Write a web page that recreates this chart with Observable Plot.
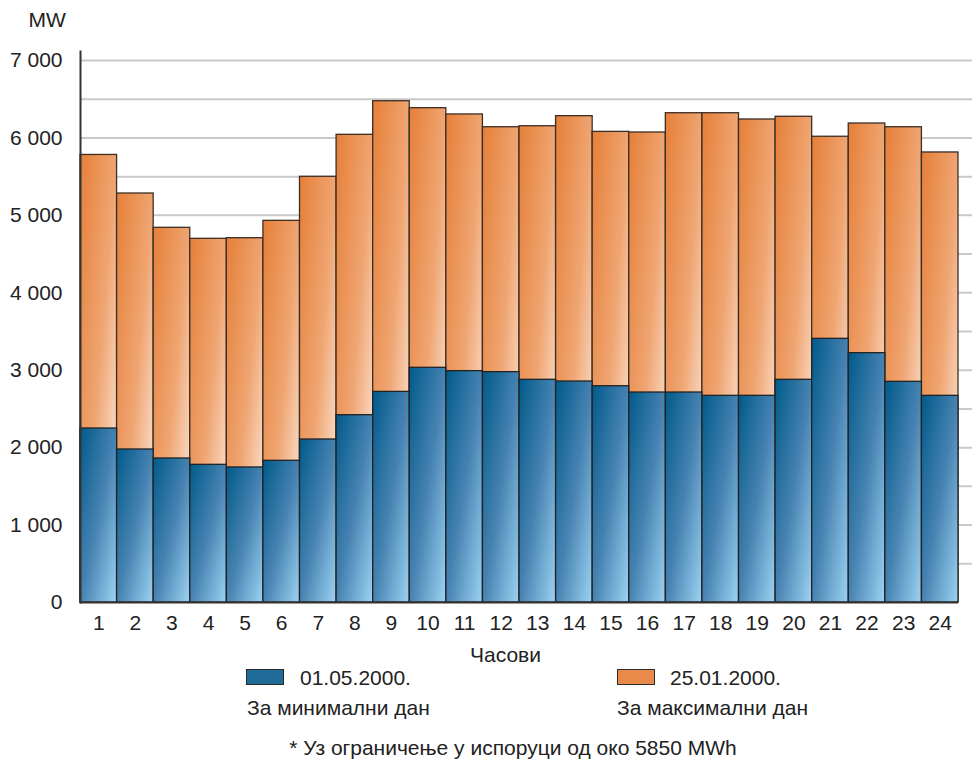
<!DOCTYPE html>
<html>
<head>
<meta charset="utf-8">
<script src="https://cdn.jsdelivr.net/npm/d3@7"></script>
<script src="https://cdn.jsdelivr.net/npm/@observablehq/plot@0.6"></script>
<style>
  html, body { margin: 0; padding: 0; background: #fff; }
  #wrap { position: relative; width: 972px; height: 763px; font-family: "Liberation Sans", Arial, sans-serif; color: #222; }
  .lg { position: absolute; font-size: 21px; line-height: 1; white-space: nowrap; }
  .sw { position: absolute; width: 36px; height: 14px; border: 1.5px solid #2a2a2a; }
</style>
</head>
<body>
<div id="wrap"></div>
<script>
const hours = [1,2,3,4,5,6,7,8,9,10,11,12,13,14,15,16,17,18,19,20,21,22,23,24];
const minDay = [2247,1976,1860,1778,1744,1830,2105,2419,2720,3031,2988,2975,2876,2854,2793,2712,2712,2669,2669,2876,3405,3220,2850,2669];
const maxDay = [5780,5282,4839,4697,4705,4929,5498,6040,6474,6384,6303,6138,6151,6281,6078,6070,6319,6319,6238,6273,6015,6186,6138,5812];
const yTicks = [0,1000,2000,3000,4000,5000,6000,7000];
const gridLevels = [500,1000,1500,2000,2500,3000,3500,4000,4500,5000,5500,6000,6500,7000];
const minLabel = "01.05.2000.";
const maxLabel = "25.01.2000.";
const minNote = "За минимални дан";
const maxNote = "За максимални дан";
const xTitle = "Часови";
const yUnit = "MW";
const footnote = "* Уз ограничење у испоруци од око 5850 MWh";

const rows = hours.map((h, i) => ({hour: h, min: minDay[i], max: maxDay[i]}));
const fmt = d => d3.format(",")(d).replace(/,/g, " ");

const svg = Plot.plot({
  width: 972,
  height: 670,
  marginTop: 51,
  marginLeft: 80,
  marginRight: 0,
  marginBottom: 68,
  style: {fontFamily: "Liberation Sans, Arial, sans-serif", fontSize: "21px", color: "#222", background: "white"},
  x: {domain: hours, range: [80, 958], padding: 0, round: false, tickSize: 0, tickPadding: 13, label: null},
  y: {domain: [0, 7116], ticks: yTicks, tickFormat: fmt, tickSize: 0, tickPadding: 18, label: null},
  marks: [
    Plot.ruleY(gridLevels, {stroke: "#c9c9c9", strokeWidth: 2}),
    Plot.barY(rows, {x: "hour", y: "max", fill: "url(#gOrange)", stroke: "#3b2e25", strokeWidth: 1.3}),
    Plot.barY(rows, {x: "hour", y: "min", fill: "url(#gBlue)", stroke: "#222", strokeWidth: 1.3}),
    Plot.ruleY([0], {x1: () => hours[0], x2: () => hours[hours.length - 1], stroke: "#333", strokeWidth: 2}),
    Plot.frame({anchor: "left", stroke: "#333", strokeWidth: 2}),
    Plot.text([yUnit], {frameAnchor: "top-left", textAnchor: "start", lineAnchor: "middle", dx: -52, dy: -31, fontSize: 21}),
    Plot.text([xTitle], {frameAnchor: "bottom-left", textAnchor: "middle", lineAnchor: "middle", dx: 425, dy: 53, fontSize: 21})
  ]
});

const ns = "http://www.w3.org/2000/svg";
const defs = document.createElementNS(ns, "defs");
defs.innerHTML = `
<linearGradient id="gOrange" x1="0" y1="0" x2="1" y2="1">
  <stop offset="0" stop-color="#e67f38"/>
  <stop offset="0.5" stop-color="#efa572"/>
  <stop offset="1" stop-color="#fff6ef"/>
</linearGradient>
<linearGradient id="gBlue" x1="0" y1="0" x2="1" y2="1">
  <stop offset="0" stop-color="#005a8a"/>
  <stop offset="0.5" stop-color="#4682b1"/>
  <stop offset="1" stop-color="#9dd3f3"/>
</linearGradient>`;
svg.insertBefore(defs, svg.firstChild);

const wrap = document.getElementById("wrap");
wrap.appendChild(svg);

function addEl(cls, css, text) {
  const el = document.createElement("div");
  el.className = cls;
  Object.assign(el.style, css);
  if (text) el.textContent = text;
  wrap.appendChild(el);
}
addEl("sw", {left: "246px", top: "669px", background: "#1f6c98"});
addEl("lg", {left: "300px", top: "667px"}, minLabel);
addEl("lg", {left: "247px", top: "697px"}, minNote);
addEl("sw", {left: "617px", top: "669px", background: "#e98a4a"});
addEl("lg", {left: "670px", top: "667px"}, maxLabel);
addEl("lg", {left: "617px", top: "697px"}, maxNote);
addEl("lg", {left: "0px", width: "1026px", textAlign: "center", top: "737px"}, footnote);
</script>
</body>
</html>
